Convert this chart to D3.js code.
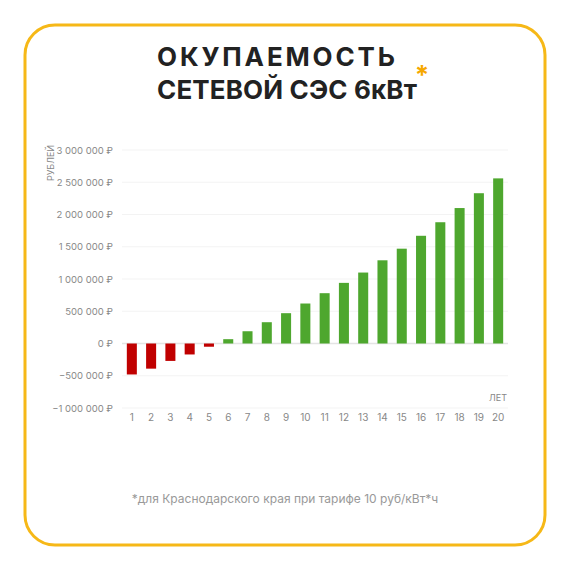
<!DOCTYPE html>
<meta charset="utf-8">
<style>
body { margin: 0; background: #fff; }
text { font-family: Inter, Roboto, sans-serif; }
</style>
<svg width="570" height="570"></svg>
<script src="https://cdn.jsdelivr.net/npm/d3@7"></script>
<script>
var years = d3.range(1, 21).map(String);
var values = [-480000, -390000, -270000, -170000, -50000, 67000, 190000, 330000, 470000, 620000,
              780000, 940000, 1100000, 1290000, 1470000, 1670000, 1880000, 2100000, 2330000, 2560000];
var yTicks = [-1000000, -500000, 0, 500000, 1000000, 1500000, 2000000, 2500000, 3000000];

var svg = d3.select("svg");

svg.append("rect").attr("x", 25).attr("y", 25).attr("width", 520).attr("height", 520)
  .attr("rx", 30).attr("fill", "#fff").attr("stroke", "#f6b817").attr("stroke-width", 3);

svg.append("text").attr("x", 157).attr("y", 66)
  .attr("font-size", 26).attr("font-weight", "bold").attr("fill", "#222")
  .attr("textLength", 238).attr("lengthAdjust", "spacing").text("ОКУПАЕМОСТЬ");
svg.append("text").attr("x", 157).attr("y", 99)
  .attr("font-size", 26).attr("font-weight", "bold").attr("fill", "#222")
  .attr("textLength", 260).attr("lengthAdjust", "spacing").text("СЕТЕВОЙ СЭС 6кВт");
svg.append("text").attr("x", 422).attr("y", 84).attr("text-anchor", "middle")
  .attr("font-size", 26).attr("font-weight", "bold").attr("fill", "#f6a800").text("*");

var x = d3.scaleBand().domain(years).range([122, 508]).paddingInner(0.48).paddingOuter(0.25);
var y = d3.scaleLinear().domain([-1000000, 3000000]).range([408, 150]);

var fmt = function (d) { return d3.format(",")(d).replace(/,/g, " ") + " ₽"; };

svg.append("g").selectAll("line").data(yTicks).enter().append("line")
  .attr("x1", 122).attr("x2", 508)
  .attr("y1", function (d) { return y(d); }).attr("y2", function (d) { return y(d); })
  .attr("stroke", function (d) { return d === 0 ? "#e4e4e4" : "#f3f3f3"; })
  .attr("stroke-width", function (d) { return d === 0 ? 1.5 : 1; });

svg.append("g").selectAll("text").data(yTicks).enter().append("text")
  .attr("x", 113).attr("y", function (d) { return y(d) + 3.5; })
  .attr("text-anchor", "end").attr("font-size", 9.5).attr("fill", "#888")
  .text(fmt);

svg.append("g").selectAll("rect").data(values).enter().append("rect")
  .attr("x", function (d, i) { return x(years[i]); })
  .attr("width", x.bandwidth())
  .attr("y", function (d) { return y(Math.max(0, d)); })
  .attr("height", function (d) { return Math.abs(y(d) - y(0)); })
  .attr("fill", function (d) { return d < 0 ? "#c00000" : "#4ea72e"; });

svg.append("g").selectAll("text").data(years).enter().append("text")
  .attr("x", function (d) { return x(d) + x.bandwidth() / 2; }).attr("y", 421)
  .attr("text-anchor", "middle").attr("font-size", 10).attr("fill", "#888").text(function (d) { return d; });

svg.append("text").attr("transform", "translate(54,163) rotate(-90)")
  .attr("text-anchor", "middle").attr("font-size", 9).attr("fill", "#888").text("РУБЛЕЙ");
svg.append("text").attr("x", 507).attr("y", 401).attr("text-anchor", "end")
  .attr("font-size", 9).attr("fill", "#888").text("ЛЕТ");

svg.append("text").attr("x", 285).attr("y", 503).attr("text-anchor", "middle")
  .attr("font-size", 12).attr("fill", "#999").text("*для Краснодарского края при тарифе 10 руб/кВт*ч");
</script>
